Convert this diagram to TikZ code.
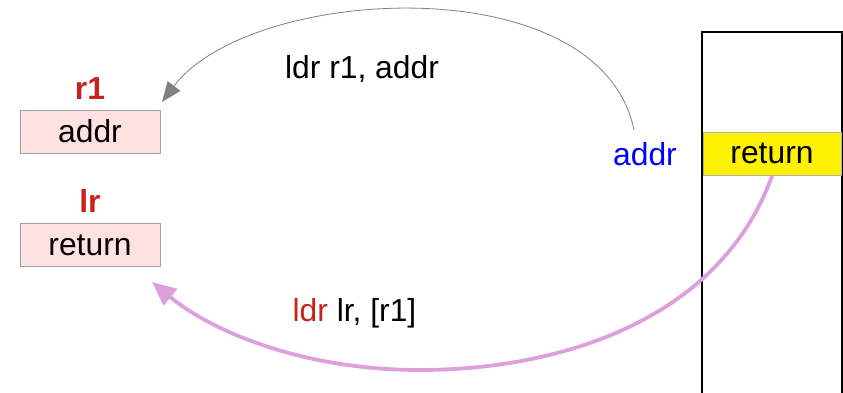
\documentclass[tikz,border=0pt]{standalone}
\usepackage{fontspec}
\setmainfont{Liberation Sans}
\usetikzlibrary{arrows.meta}
\definecolor{regfill}{HTML}{FFE1E1}
\definecolor{regdraw}{HTML}{A0A0A0}
\definecolor{regred}{HTML}{C9211E}
\definecolor{plumline}{HTML}{DDA0DD}
\definecolor{pblue}{HTML}{0000FF}
\tikzset{
  txt/.style={font=\fontsize{31.8}{36}\selectfont, inner sep=0pt},
  regbox/.style={draw=regdraw, line width=0.8pt, fill=regfill, minimum width=140pt, minimum height=43pt, inner sep=0pt, font=\fontsize{31.8}{36}\selectfont},
  reglabel/.style={txt, text=regred, font=\fontsize{31.8}{36}\selectfont\bfseries, anchor=base},
  grayarrow/.style={draw=gray, line width=0.8pt, -{Triangle[length=20pt,width=16pt]}},
  plumarrow/.style={draw=plumline, line width=3.8pt, -{Triangle[length=24pt,width=21pt]}},
}
\begin{document}
\begin{tikzpicture}[x=1pt,y=-1pt]
\useasboundingbox (0,0) rectangle (843,393);
% stack
\draw[line width=2pt] (702,400) -- (702,32) -- (842,32) -- (842,400);
\node[draw={rgb,255:red,176;green,176;blue,176}, line width=0.8pt, fill=yellow, minimum width=138pt, minimum height=43pt, inner sep=0pt, font=\fontsize{31.8}{36}\selectfont] (ret) at (772,153.5) {return};
% registers
\node[reglabel] (r1lab) at (90,99.5) {r1};
\node[regbox] (r1box) at (90,131.5) {addr};
\node[reglabel] (lrlab) at (90,212.5) {lr};
\node[regbox] (lrbox) at (90,245) {return};
% labels
\node[txt, text=pblue, anchor=base] (addrlab) at (645,165) {addr};
\node[txt, anchor=base] (ldr1) at (362,78.5) {ldr r1, addr};
\node[txt, anchor=base] (ldr2) at (354.5,321) {\textcolor{regred}{ldr} lr, [r1]};
% connectors
\coordinate (gstart) at (634,130);
\coordinate (gend) at (162,102);
\draw[grayarrow] (gstart) .. controls (600,-35) and (250,-15) .. (gend);
\coordinate (pstart) at (772,176);
\coordinate (pmid) at (420,370);
\coordinate (pend) at (152,282);
\draw[plumarrow] (pstart) .. controls (720,320) and (560,370) .. (pmid) .. controls (300,370) and (210,330) .. (pend);
\end{tikzpicture}
\end{document}
